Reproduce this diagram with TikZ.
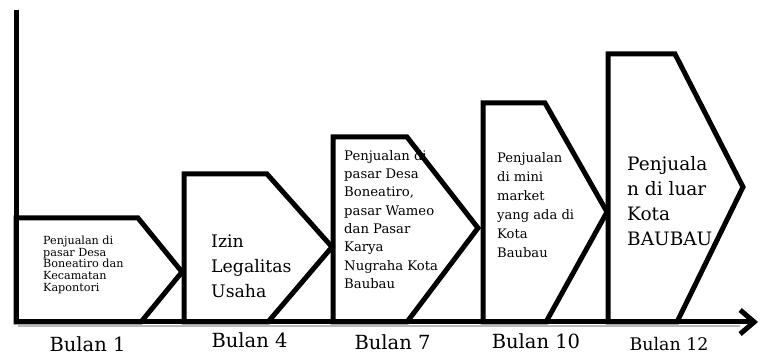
\documentclass[tikz,border=0pt]{standalone}
\usepackage{fontspec}
\setmainfont{DejaVu Serif}
\usetikzlibrary{arrows.meta}
\begin{document}
\begin{tikzpicture}[x=1pt,y=-1pt,
  stage/.style={draw=black, line width=5pt, line join=miter},
  axisline/.style={draw=black, line width=5pt, line join=miter},
  desc/.style={anchor=north west, align=left, inner sep=0pt, text=black},
  month/.style={anchor=center, inner sep=0pt, font=\fontsize{19.5}{22}\selectfont},
]
\useasboundingbox[fill=white] (0,0) rectangle (761,355);

% texts
\node[desc, font=\fontsize{11.2}{11.6}\selectfont] (t1) at (43,236)
  {Penjualan di\\pasar Desa\\Boneatiro dan\\Kecamatan\\Kapontori};
\node[desc, font=\fontsize{17.3}{25}\selectfont] (t2) at (211,235)
  {Izin\\Legalitas\\Usaha};
\node[desc, font=\fontsize{13.2}{18.3}\selectfont] (t3) at (344,150)
  {Penjualan di\\pasar Desa\\Boneatiro,\\pasar Wameo\\dan Pasar\\Karya\\Nugraha Kota\\Baubau};
\node[desc, font=\fontsize{13.1}{19}\selectfont] (t4) at (497,152)
  {Penjualan\\di mini\\market\\yang ada di\\Kota\\Baubau};
\node[desc, font=\fontsize{18.5}{25}\selectfont] (t5) at (627,156)
  {Penjuala\\n di luar\\Kota\\BAUBAU};

% shapes
\draw[stage] (16,322) -- (16,218) -- (138,218) -- (182,272) -- (141,322) -- cycle;
\draw[stage] (184,322) -- (184,174) -- (267,174) -- (332,247) -- (268,322) -- cycle;
\draw[stage] (333,322) -- (333,137) -- (407,137) -- (478,228) -- (407,322) -- cycle;
\draw[stage] (483,322) -- (483,103) -- (545,103) -- (607,212) -- (546,322) -- cycle;
\draw[stage] (608,322) -- (608,54) -- (675,54) -- (743,187) -- (677,322) -- cycle;

% axes
\coordinate (ytop) at (16,10);
\coordinate (origin) at (16,322);
\coordinate (xend) at (758,322);
\draw[gray!55, line width=2pt] (18,326.5) -- (740,326.5);
\draw[axisline, -{Straight Barb[length=14pt,width=24pt]}] (ytop) -- (origin) -- (xend);

% month labels
\node[month] (m1) at (87.5,344) {Bulan 1};
\node[month] (m4) at (249.5,340) {Bulan 4};
\node[month] (m7) at (392.5,342) {Bulan 7};
\node[month] (m10) at (536,341) {Bulan 10};
\node[month, font=\fontsize{17.4}{20}\selectfont] (m12) at (669,344) {Bulan 12};
\end{tikzpicture}
\end{document}
